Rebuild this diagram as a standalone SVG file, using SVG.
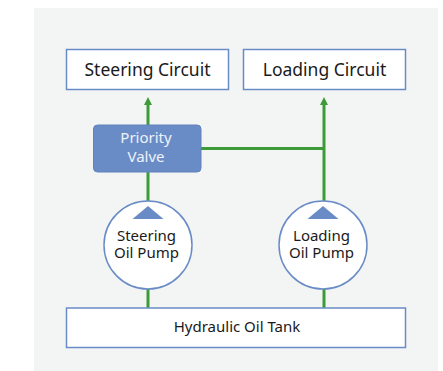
<svg xmlns="http://www.w3.org/2000/svg" width="443" height="371" viewBox="0 0 443 371">
<defs>
<style>
.box{fill:#ffffff;stroke:#6a8cc6;stroke-width:1.5}
.valve{fill:#6a8cc6;stroke:#5f82be;stroke-width:1}
.pump{fill:#ffffff;stroke:#6a8cc6;stroke-width:1.5}
.tri{fill:#6a8cc6}
.t{font-family:"Noto Sans","Liberation Sans",sans-serif;fill:#1a1a1a;text-anchor:middle}
.big{font-size:17.5px}
.mid{font-size:15px}
.wt{fill:#eef2fa}
.ln{stroke:#3c9b37;stroke-width:3;fill:none}
</style>
<marker id="ah" markerWidth="8" markerHeight="8" refX="4" refY="4" orient="auto" markerUnits="userSpaceOnUse">
<path d="M0,0 L8,4 L0,8 z" fill="#3c9b37"/>
</marker>
</defs>
<rect x="34" y="8" width="404" height="363" fill="#f3f5f5"/>
<g id="connectors">
<path class="ln" d="M148,125 V101" marker-end="url(#ah)"/>
<path class="ln" d="M148,201 V172"/>
<path class="ln" d="M324,201 V101" marker-end="url(#ah)"/>
<path class="ln" d="M201,148.5 H324"/>
<path class="ln" d="M148,289 V308"/>
<path class="ln" d="M324,289 V308"/>
</g>
<g id="steering-circuit">
<rect class="box" x="66.5" y="49.5" width="162" height="40"/>
<text class="t big" x="147.5" y="76">Steering Circuit</text>
</g>
<g id="loading-circuit">
<rect class="box" x="243.5" y="49.5" width="162" height="40"/>
<text class="t big" x="324.5" y="76">Loading Circuit</text>
</g>
<g id="priority-valve">
<rect class="valve" x="93.5" y="125" width="107.5" height="47" rx="4"/>
<text class="t mid wt" x="146" y="143">Priority</text>
<text class="t mid wt" x="146" y="162">Valve</text>
</g>
<g id="steering-pump">
<circle class="pump" cx="148" cy="245" r="44"/>
<polygon class="tri" points="148,206 163.5,219 132.5,219"/>
<text class="t mid" x="146.5" y="241">Steering</text>
<text class="t mid" x="146.5" y="258">Oil Pump</text>
</g>
<g id="loading-pump">
<circle class="pump" cx="323" cy="245" r="44"/>
<polygon class="tri" points="323,206 338.5,219 307.5,219"/>
<text class="t mid" x="321.5" y="241">Loading</text>
<text class="t mid" x="321.5" y="258">Oil Pump</text>
</g>
<g id="oil-tank">
<rect class="box" x="66.5" y="308" width="339" height="39.5"/>
<text class="t mid" x="237" y="332">Hydraulic Oil Tank</text>
</g>
</svg>
